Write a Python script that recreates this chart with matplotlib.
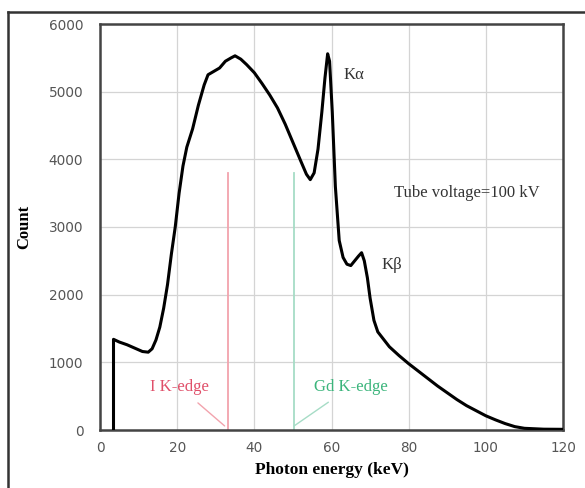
import matplotlib.pyplot as plt
from matplotlib.lines import Line2D

# -----------------------------------------------------------------------------
# Data
# -----------------------------------------------------------------------------

ENERGY_KEV = [
    3.5, 3.5, 5, 7, 9, 11, 12.5, 13.5, 14.5, 15.5, 16.5, 17.5, 18.5, 19.5,
    20.5, 21.5, 22.5, 24, 25.5, 27, 28, 29.5, 31, 32.5, 34, 35, 36.5, 38,
    40, 42, 44, 46, 48, 50, 52, 53.5, 54.5, 55.5, 56.5, 57.5, 58.3, 59,
    59.5, 60.2, 61, 62, 63, 64, 65, 66, 67, 67.8, 68.5, 69.3, 70, 71, 72,
    73.5, 75, 77.5, 80, 82.5, 85, 87.5, 90, 92.5, 95, 97.5, 100, 102.5,
    105, 107.5, 110, 115, 120,
]
COUNTS = [
    0, 1340, 1300, 1260, 1210, 1160, 1150, 1200, 1330, 1520, 1800, 2150,
    2600, 3000, 3500, 3900, 4180, 4450, 4800, 5100, 5250, 5300, 5350, 5450,
    5500, 5530, 5480, 5400, 5280, 5120, 4950, 4760, 4520, 4250, 3980, 3780,
    3700, 3800, 4150, 4700, 5200, 5560, 5450, 4700, 3600, 2800, 2550, 2450,
    2430, 2500, 2570, 2620, 2500, 2250, 1950, 1620, 1450, 1340, 1230, 1100,
    980, 870, 760, 650, 550, 450, 360, 285, 210, 150, 95, 50, 25, 12, 10,
]

K_EDGE_NAMES = ["I K-edge", "Gd K-edge"]
K_EDGE_KEV = [33.2, 50.2]
K_EDGE_HEIGHT = [3800, 3800]

X_TICKS = [0, 20, 40, 60, 80, 100, 120]
Y_TICKS = [0, 1000, 2000, 3000, 4000, 5000, 6000]

# -----------------------------------------------------------------------------
# Style
# -----------------------------------------------------------------------------

SERIF = "Liberation Serif"
TEXT_SIZE = 12
EDGE_LINE_COLORS = ["#f2a3ad", "#a6dcc6"]
EDGE_TEXT_COLORS = ["#e0506a", "#3cb57c"]

fig = plt.figure(figsize=(5.85, 4.88), dpi=100)
ax = fig.add_axes([100 / 585, 1 - 430 / 488, 463 / 585, 406 / 488])

# outer frame (cut off at the right and bottom, as in the reference)
fig.add_artist(Line2D([8 / 585, 1], [1 - 12 / 488] * 2, transform=fig.transFigure,
                      color="#333333", lw=1.8))
fig.add_artist(Line2D([8 / 585] * 2, [0, 1 - 12 / 488], transform=fig.transFigure,
                      color="#333333", lw=1.8))

# -----------------------------------------------------------------------------
# Plotting
# -----------------------------------------------------------------------------

for x, h, c in zip(K_EDGE_KEV, K_EDGE_HEIGHT, EDGE_LINE_COLORS):
    ax.plot([x, x], [0, h], color=c, lw=1.3, zorder=2)

ax.plot(ENERGY_KEV, COUNTS, color="black", lw=2.2, zorder=3)

# edge labels with leader lines
ax.annotate(K_EDGE_NAMES[0], xy=(32.3, 60), xytext=(20.5, 640),
            ha="center", va="center", fontsize=TEXT_SIZE, family=SERIF,
            color=EDGE_TEXT_COLORS[0],
            arrowprops=dict(arrowstyle="-", color=EDGE_LINE_COLORS[0], lw=1.0,
                            shrinkA=6, shrinkB=0))
ax.annotate(K_EDGE_NAMES[1], xy=(50.3, 60), xytext=(65, 640),
            ha="center", va="center", fontsize=TEXT_SIZE, family=SERIF,
            color=EDGE_TEXT_COLORS[1],
            arrowprops=dict(arrowstyle="-", color=EDGE_LINE_COLORS[1], lw=1.0,
                            shrinkA=6, shrinkB=0))

ax.text(63, 5240, "K\u03b1", fontsize=TEXT_SIZE, family=SERIF, color="#333333",
        va="center")
ax.text(73, 2440, "K\u03b2", fontsize=TEXT_SIZE, family=SERIF, color="#333333",
        va="center")
ax.text(95, 3500, "Tube voltage=100 kV", fontsize=TEXT_SIZE, family=SERIF,
        color="#333333", ha="center", va="center")

# -----------------------------------------------------------------------------
# Formatting
# -----------------------------------------------------------------------------

ax.set_xlim(0, 120)
ax.set_ylim(0, 6000)
ax.set_xticks(X_TICKS)
ax.set_yticks(Y_TICKS)
ax.tick_params(length=0, labelsize=9.8, labelcolor="#555555")
ax.tick_params(axis="y", pad=12)
ax.tick_params(axis="x", pad=8)
ax.grid(True, color="#d4d4d4", lw=0.9)
ax.set_axisbelow(True)

for spine in ax.spines.values():
    spine.set_color("#444444")
    spine.set_linewidth(1.8)

ax.set_xlabel("Photon energy (keV)", fontsize=12.5, family=SERIF,
              fontweight="bold", labelpad=5)
ax.set_ylabel("Count", fontsize=12, family=SERIF, fontweight="bold",
              labelpad=12)

fig.savefig("out.png", dpi=100)
